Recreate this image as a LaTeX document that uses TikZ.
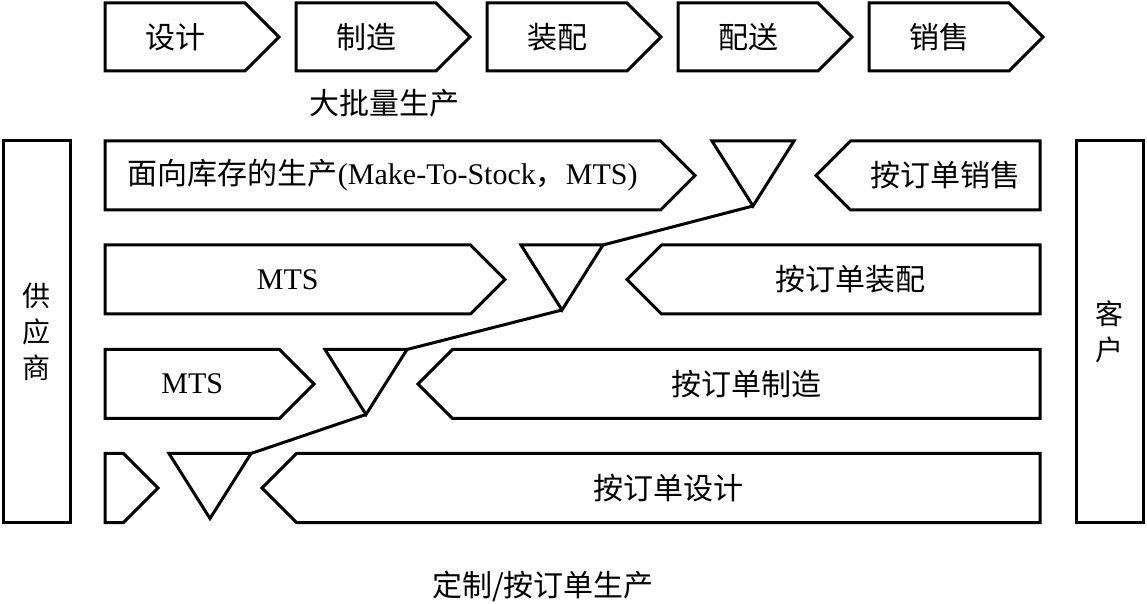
\documentclass[tikz,border=0pt]{standalone}
\usepackage{fontspec}
\setmainfont{Liberation Serif}
\newfontfamily\cjk{Noto Sans CJK SC}
\usetikzlibrary{shapes.symbols, shapes.geometric}

\begin{document}
\begin{tikzpicture}[
        x=0.5pt, y=-0.5pt,
        stage/.style={signal, draw=black, line width=1.5pt, signal pointer angle=90, signal from=nowhere, inner sep=0pt, minimum height=34.5pt, font=\fontsize{15}{18}\selectfont},
        toright/.style={stage, signal to=east},
        toleft/.style={stage, signal to=west},
        buffer/.style={isosceles triangle, isosceles triangle stretches, shape border rotate=270, draw=black, line width=1.5pt, inner sep=0pt, outer sep=0pt, minimum width=41pt, minimum height=32.5pt, anchor=apex},
        party/.style={rectangle, draw=black, line width=1.5pt, minimum width=33.5pt, minimum height=190.5pt, align=center, font=\fontsize{14}{18}\selectfont\cjk},
        link/.style={line width=1.5pt},
        caption/.style={font=\fontsize{15}{18}\selectfont\cjk}
    ]
    \useasboundingbox (0,0) rectangle (1147,604);

    % process chain
    \node[toright, minimum width=87pt, minimum height=34pt] (design) at (175,37) {\cjk 设计};
    \node[toright, minimum width=87pt, minimum height=34pt] (make) at (366,37) {\cjk 制造};
    \node[toright, minimum width=87pt, minimum height=34pt] (assemble) at (557,37) {\cjk 装配};
    \node[toright, minimum width=87pt, minimum height=34pt] (deliver) at (748,37) {\cjk 配送};
    \node[toright, minimum width=87pt, minimum height=34pt] (sell) at (939,37) {\cjk 销售};
    \node[caption] (mass) at (384,103) {大批量生产};

    % supplier and customer
    \node[party] (supplier) at (36.5,331.5) {供\\应\\商};
    \node[party] (customer) at (1109.5,331.5) {客\\户};

    % row 1
    \node[toright, minimum width=295pt] (mtsA) at (382.75,175.5) {{\cjk 面向库存的生产}(Make-To-Stock{\cjk ，}MTS)};
    \node[buffer] (bufA) at (753,206) {};
    \node[toleft, minimum width=112pt] (sto) at (945.25,175.5) {\cjk 按订单销售};

    % row 2
    \node[toright, minimum width=200pt] (mtsB) at (287.75,279.5) {MTS};
    \node[buffer] (bufB) at (562,310) {};
    \node[toleft, minimum width=206.5pt] (ato) at (850.75,279.5) {\cjk 按订单装配};

    % row 3
    \node[toright, minimum width=104.5pt] (mtsC) at (192.25,384) {MTS};
    \node[buffer] (bufC) at (366,414.5) {};
    \node[toleft, minimum width=311pt] (mto) at (746.25,384) {\cjk 按订单制造};

    % row 4
    \node[toright, minimum width=26.5pt] (mtsD) at (114.25,488) {};
    \node[buffer] (bufD) at (210,518.5) {};
    \node[toleft, minimum width=389pt] (eto) at (668.25,488) {\cjk 按订单设计};

    \node[caption] (custom) at (543,586) {定制/按订单生产};

    % decoupling line
    \draw[link] (bufA.apex) -- (bufB.left corner);
    \draw[link] (bufB.apex) -- (bufC.left corner);
    \draw[link] (bufC.apex) -- (bufD.left corner);
\end{tikzpicture}
\end{document}
